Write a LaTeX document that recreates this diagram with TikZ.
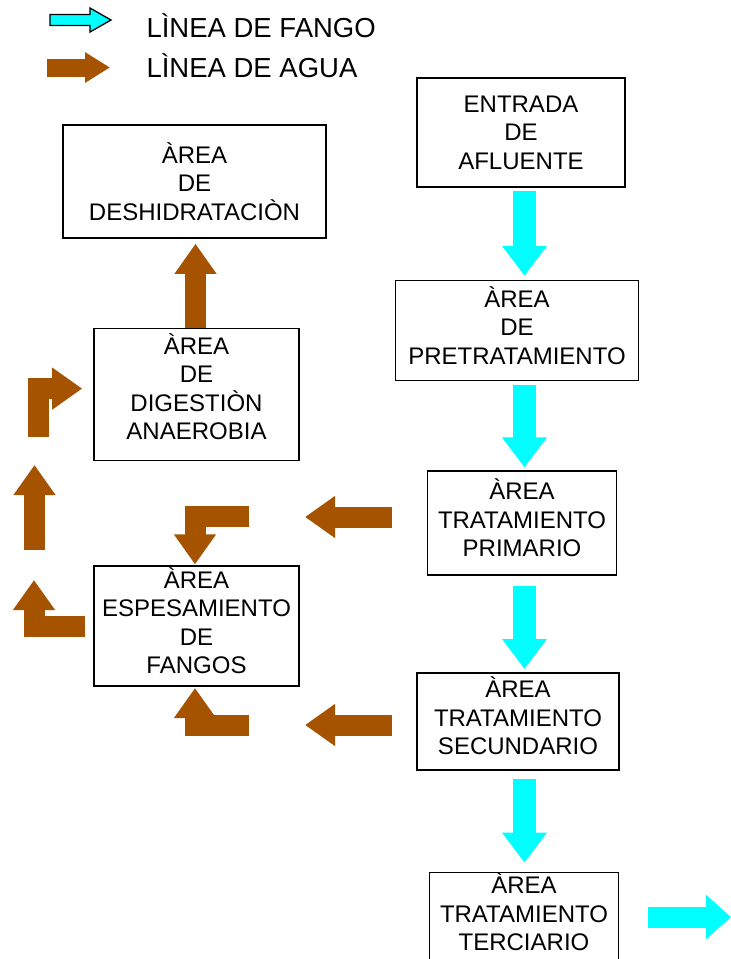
\documentclass[tikz,border=0pt]{standalone}
\usepackage{fontspec}
\setmainfont{Liberation Sans}
\usetikzlibrary{arrows.meta, positioning}

\definecolor{fangocyan}{RGB}{0,255,255}
\definecolor{aguabrown}{RGB}{166,83,0}

\begin{document}
\begin{tikzpicture}[
  x=1pt, y=-1pt,
  every node/.style={align=center, font=\fontsize{24}{28.5}\selectfont},
  areabox/.style={draw, line width=1.6pt, inner sep=0pt},
  legendtext/.style={anchor=base west, font=\fontsize{27.5}{30}\selectfont},
  fango/.style={draw=fangocyan, line width=23pt, -{Triangle[length=30pt, width=43pt]}},
  agua/.style={draw=aguabrown, line width=21pt, line join=miter, -{Triangle[length=30pt, width=40pt]}}
]
\useasboundingbox (0,0) rectangle (731,959);

% Legend
\coordinate (leyfango) at (50,20);
\coordinate (leyaguaA) at (47,67.5);
\coordinate (leyaguaB) at (110,67.5);
\draw[fill=fangocyan, line width=1.3pt, shift={(leyfango)}]
  (0,-5.5) -- (40,-5.5) -- (40,-12) -- (61,0) -- (40,12) -- (40,5.5) -- (0,5.5) -- cycle;
\draw[agua, line width=18pt, -{Triangle[length=25pt, width=29pt]}] (leyaguaA) -- (leyaguaB);
\node[legendtext] (leyfangotxt) at (143,37) {LÌNEA DE FANGO};
\node[legendtext] (leyaguatxt) at (143,77) {LÌNEA DE AGUA};

% Main line
\node[areabox, minimum width=208pt, minimum height=109pt] (entrada) at (521,132.5) {ENTRADA\\DE\\AFLUENTE};
\node[areabox, minimum width=243pt, minimum height=100pt, text depth=11pt, below=92pt of entrada, xshift=-4pt] (pretrat) {ÀREA\\DE\\PRETRATAMIENTO};
\node[areabox, minimum width=189pt, minimum height=104pt, text depth=11pt, below=89pt of pretrat, xshift=5pt] (primario) {ÀREA\\TRATAMIENTO\\PRIMARIO};
\node[areabox, minimum width=202pt, minimum height=97pt, text depth=11pt, below=96pt of primario, xshift=-4pt] (secundario) {ÀREA\\TRATAMIENTO\\SECUNDARIO};
\node[areabox, minimum width=189pt, minimum height=91pt, text depth=12pt, below=101pt of secundario, xshift=6pt] (terciario) {ÀREA\\TRATAMIENTO\\TERCIARIO};

% Sludge side
\node[areabox, minimum width=263pt, minimum height=113pt] (deshid) at (194.5,181.5) {ÀREA\\DE\\DESHIDRATACIÒN};
\node[areabox, minimum width=205pt, minimum height=132pt, text depth=16pt, below=89pt of deshid, xshift=2pt] (digest) {ÀREA\\DE\\DIGESTIÒN\\ANAEROBIA};
\node[areabox, minimum width=205pt, minimum height=120pt, text depth=11pt, below=104pt of digest] (espes) {ÀREA\\ESPESAMIENTO\\DE\\FANGOS};

% Free ends
\coordinate (colfango) at (524.5,0);
\coordinate (salidaA) at (648,917);
\coordinate (salidaB) at (731,917);
\coordinate (aguaP1) at (392,517);
\coordinate (aguaP2) at (305,517);
\coordinate (aguaS1) at (392,725);
\coordinate (aguaS2) at (305,725);
\coordinate (aguaE1) at (249,516.5);
\coordinate (aguaF1) at (249,725.5);
\coordinate (aguaL2) at (34,580);
\coordinate (aguaU1) at (34.5,550);
\coordinate (aguaU2) at (34.5,465);
\coordinate (aguaD1) at (38,437);

% Cyan arrows
\draw[fango, shorten <=3pt, shorten >=4pt] (entrada.south -| colfango) -- (pretrat.north -| colfango);
\draw[fango, shorten <=4pt, shorten >=3pt] (pretrat.south -| colfango) -- (primario.north -| colfango);
\draw[fango, shorten <=10pt, shorten >=3pt] (primario.south -| colfango) -- (secundario.north -| colfango);
\draw[fango, shorten <=8pt, shorten >=9pt] (secundario.south -| colfango) -- (terciario.north -| colfango);
\draw[fango, line width=21pt, -{Triangle[length=25pt, width=43pt]}] (salidaA) -- (salidaB);

% Brown arrows
\draw[agua] (aguaP1) -- (aguaP2);
\draw[agua] (aguaS1) -- (aguaS2);
\draw[agua, shorten >=1pt] (aguaE1) -| ([xshift=-1.5pt]espes.north);
\draw[agua, shorten >=1pt] (aguaF1) -| ([xshift=-1.5pt]espes.south);
\draw[agua] ([xshift=-8pt]espes.west) -| (aguaL2);
\draw[agua] (aguaU1) -- (aguaU2);
\draw[agua] (aguaD1) |- ([xshift=-11pt, yshift=6pt]digest.west);
\draw[agua, shorten >=5pt] ([xshift=-1pt]digest.north) -- ([xshift=-1pt]digest.north |- deshid.south);

\end{tikzpicture}
\end{document}
